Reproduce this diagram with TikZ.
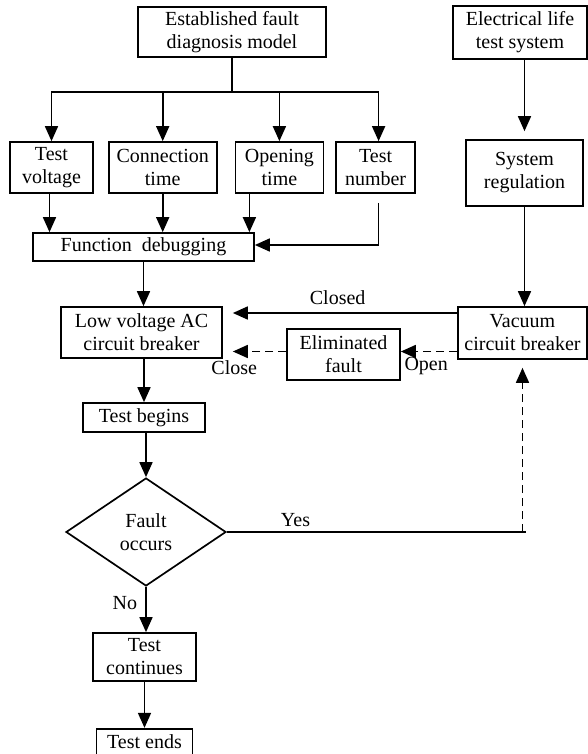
\documentclass[tikz,border=0pt]{standalone}
\usepackage{fontspec}
\setmainfont{Liberation Serif}
\usetikzlibrary{arrows.meta,positioning,shapes.geometric}

\begin{document}
\begin{tikzpicture}[
    x=1pt, y=-1pt,
    font=\fontsize{20pt}{23pt}\selectfont,
    box/.style={rectangle, draw, line width=1.7pt, inner sep=0pt, align=center},
    decision/.style={diamond, draw, line width=1.7pt, inner sep=0pt, align=center},
    arr/.style={-{Triangle[length=15pt,width=13pt]}, line width=1.7pt},
    darr/.style={arr, dash pattern=on 8pt off 5pt},
    lbl/.style={inner sep=2pt},
]
    \useasboundingbox (0,0) rectangle (588,754);

    % top boxes
    \node[box, minimum width=188pt, minimum height=50pt] (model) at (232,32) {Established fault\\diagnosis model};
    \node[box, minimum width=134pt, minimum height=53pt] (lifetest) at (520,32.5) {Electrical life\\test system};

    % parameter row
    \node[box, minimum width=83pt, minimum height=51pt] (voltage) at (51.5,167.5) {Test\\voltage};
    \node[box, minimum width=108pt, minimum height=51pt, right=14pt of voltage] (conntime) {Connection\\time};
    \node[box, minimum width=88pt, minimum height=51pt, right=17pt of conntime] (opentime) {Opening\\time};
    \node[box, minimum width=79pt, minimum height=51pt, right=11pt of opentime] (number) {Test\\number};
    \node[box, minimum width=117pt, minimum height=66pt] (regulation) at (524.5,173) {System\\regulation};

    % main column
    \node[box, minimum width=221pt, minimum height=28pt] (debug) at (143.5,247) {Function\ \ debugging};
    \node[box, minimum width=161pt, minimum height=51pt] (lowvolt) at (141.5,332.5) {Low voltage AC\\circuit breaker};
    \node[box, minimum width=129pt, minimum height=52pt] (vacuum) at (522.5,333) {Vacuum\\circuit breaker};
    \node[box, minimum width=113pt, minimum height=51pt] (eliminated) at (343.5,354.5) {Eliminated\\fault};
    \node[box, minimum width=122pt, minimum height=29pt] (begins) at (144,417.5) {Test begins};
    \node[decision, minimum width=160pt, minimum height=108pt] (fault) at (146,532) {Fault\\occurs};
    \node[box, minimum width=103pt, minimum height=48pt] (continues) at (144.5,657) {Test\\continues};
    \node[box, minimum width=96pt, minimum height=26pt, below=46pt of continues] (ends) {Test ends};

    % branching from the model
    \draw[arr] (model.south) -- ++(0,34) -| (voltage.north);
    \draw[arr] (model.south) -- ++(0,34) -| (conntime.north);
    \draw[arr] (model.south) -- ++(0,34) -| (opentime.north);
    \draw[arr] (model.south) -- ++(0,34) -| ([xshift=3pt]number.north);

    % into function debugging
    \draw[arr] ([xshift=-2pt]voltage.south) -- ([xshift=-2pt]voltage.south |- debug.north);
    \draw[arr] (conntime.south) -- (conntime.south |- debug.north);
    \draw[arr] ([xshift=-30pt]opentime.south) -- ([xshift=-30pt]opentime.south |- debug.north);
    \draw[arr] ([xshift=3pt,yshift=-9pt]number.south) |- ([yshift=2pt]debug.east);

    % right column
    \draw[arr, shorten >=8pt] (lifetest.south -| regulation.north) -- (regulation.north);
    \draw[arr] (regulation.south) -- (regulation.south |- vacuum.north);

    % breaker loop
    \draw[arr] (debug.south) -- (debug.south |- lowvolt.north);
    \draw[arr, shorten >=10pt] ([yshift=20pt]vacuum.west) -- ([yshift=20pt]vacuum.west -| lowvolt.east)
        node[lbl, pos=0.51, above=5pt] (closed) {Closed};
    \draw[darr] ([yshift=3pt]eliminated.east -| vacuum.west) -- ([yshift=3pt]eliminated.east)
        node[lbl, pos=0.55, below=3pt] (open) {Open};
    \draw[darr, shorten >=10pt] ([yshift=3pt]eliminated.west) -- ([yshift=3pt]eliminated.west -| lowvolt.east)
        node[lbl, pos=0.82, below=6pt] (close) {Close};

    % test sequence
    \draw[arr] (begins.north |- lowvolt.south) -- (begins.north);
    \draw[arr] (fault.north |- begins.south) -- (fault.north);
    \draw[arr] (fault.south) -- (fault.south |- continues.north)
        node[lbl, pos=0.35, left=6pt] (no) {No};
    \draw[arr] (continues.south) -- (continues.south |- ends.north);

    % fault found
    \coordinate (yescorner) at (fault.east -| vacuum.south);
    \draw[line width=2.2pt] (fault.east) -- ([xshift=3pt]yescorner)
        node[lbl, pos=0.23, above=2pt] (yes) {Yes};
    \draw[darr, shorten >=8pt] (yescorner) -- (vacuum.south);
\end{tikzpicture}
\end{document}
